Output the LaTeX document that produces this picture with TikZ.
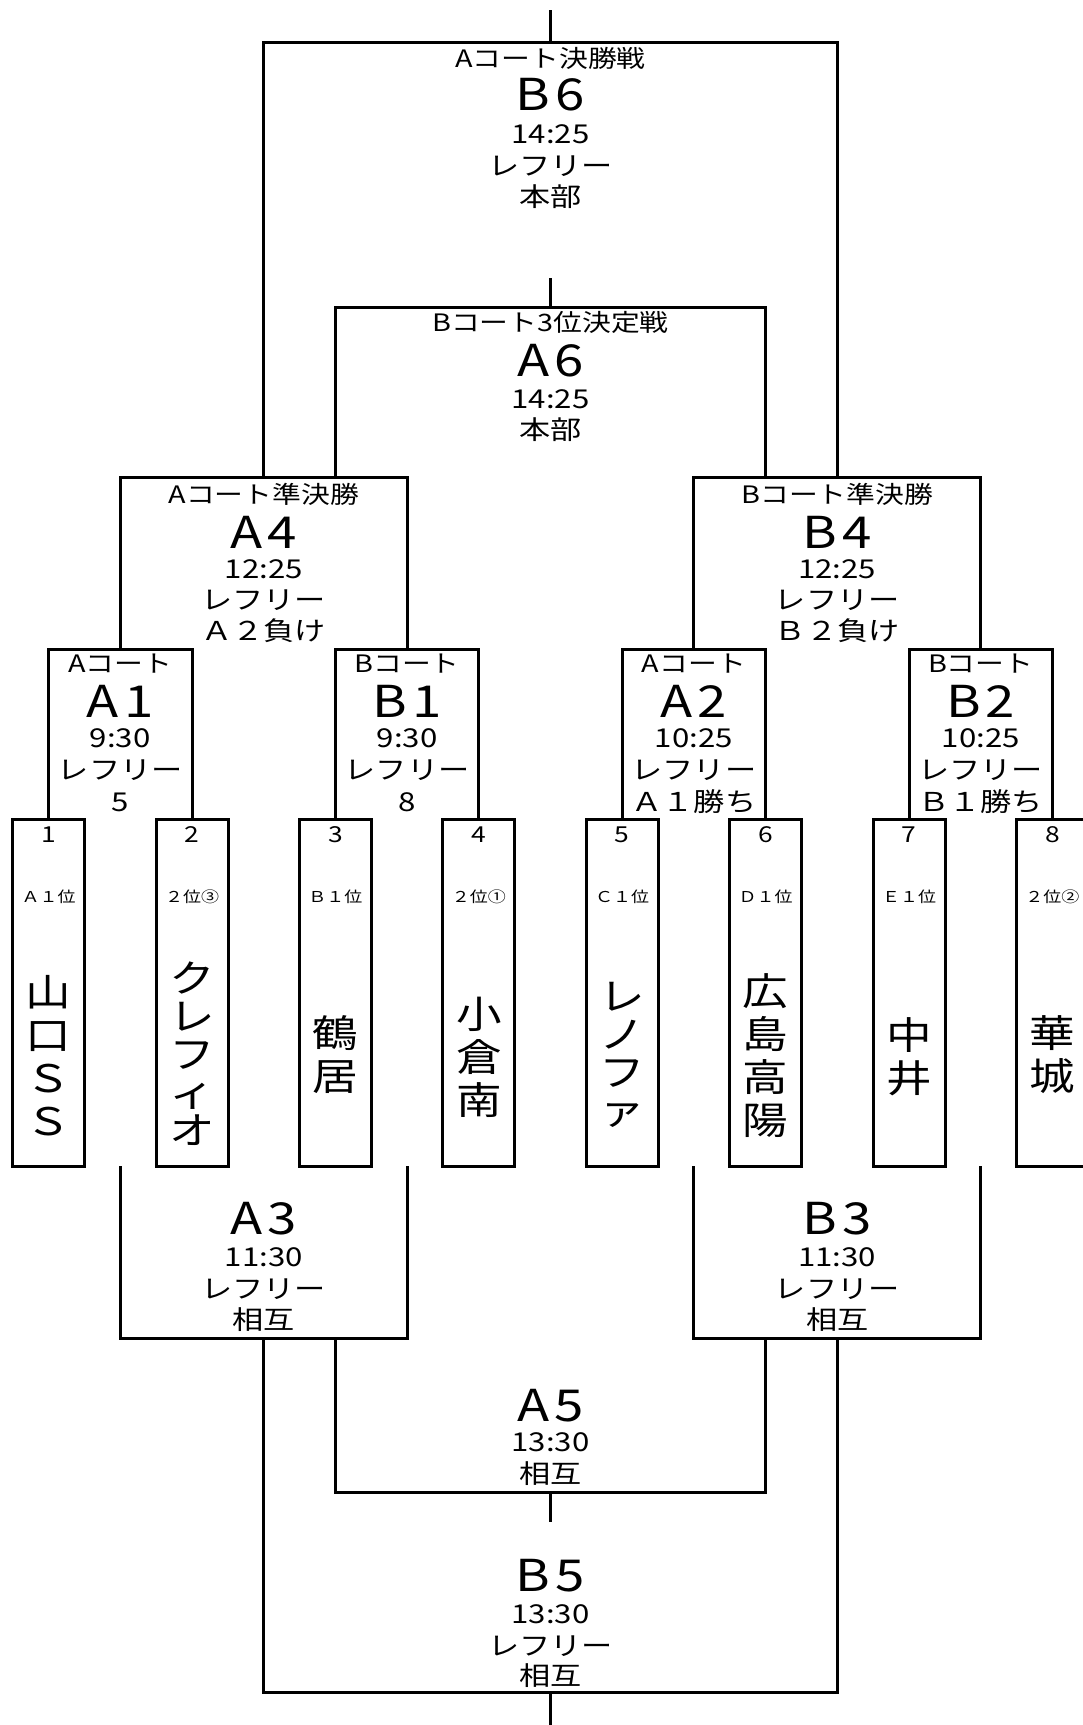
\documentclass[tikz,border=0pt]{standalone}
\usepackage{fontspec}
\setmainfont{Noto Sans CJK JP}[FakeStretch=1.2]
\newcommand{\cd}[2]{#1\kern0.12em #2}
\begin{document}
\begin{tikzpicture}[x=1pt,y=-1pt,
  line width=3pt, line join=miter,
  team/.style={draw, line width=3pt, minimum width=72pt, minimum height=347pt, inner sep=0pt},
  ttl/.style={font=\fontsize{24}{28}\selectfont, inner sep=0pt},
  code/.style={font=\fontsize{44}{48}\selectfont, inner sep=0pt},
  sm/.style={font=\fontsize{26}{30}\selectfont, inner sep=0pt},
  num/.style={font=\fontsize{22}{24}\selectfont, inner sep=0pt},
  lab/.style={font=\fontsize{15}{18}\selectfont, inner sep=0pt},
  nm/.style={font=\fontsize{38}{43}\selectfont, inner sep=0pt, align=center},
  nmk/.style={font=\fontsize{38}{38}\selectfont, inner sep=0pt, align=center}]
\useasboundingbox (0,0) rectangle (1083,1725);
\clip (0,0) rectangle (1083,1725);
\fill[white] (0,0) rectangle (1083,1725);

% team boxes
\foreach \i/\x in {1/48.6,2/192.0,3/335.4,4/478.8,5/622.2,6/765.6,7/909.0,8/1052.4}
  \node[team] (t\i) at (\x,992.5) {};

% match coordinates
\coordinate (A1) at (120.3,649);
\coordinate (B1) at (407.1,649);
\coordinate (A2) at (693.9,649);
\coordinate (B2) at (980.7,649);
\coordinate (A4) at (263.7,477);
\coordinate (B4) at (837.3,477);
\coordinate (A4r) at (335.4,477);
\coordinate (B4l) at (765.6,477);
\coordinate (B6) at (550.5,42);
\coordinate (B6o) at (550.5,10);
\coordinate (A6) at (550.5,307);
\coordinate (A6o) at (550.5,278);
\coordinate (A1L) at (120.3,1166);
\coordinate (B1L) at (407.1,1166);
\coordinate (A2L) at (693.9,1166);
\coordinate (B2L) at (980.7,1166);
\coordinate (A3) at (263.7,1338);
\coordinate (B3) at (837.3,1338);
\coordinate (A3r) at (335.4,1338);
\coordinate (B3l) at (765.6,1338);
\coordinate (A5) at (550.5,1492);
\coordinate (A5o) at (550.5,1522);
\coordinate (B5) at (550.5,1692);
\coordinate (B5o) at (550.5,1730);

% brackets (upper)
\draw (t1.north) |- (A1) -| (t2.north);
\draw (t3.north) |- (B1) -| (t4.north);
\draw (t5.north) |- (A2) -| (t6.north);
\draw (t7.north) |- (B2) -| (t8.north);
\draw (A1) |- (A4) -| (B1);
\draw (A2) |- (B4) -| (B2);
\draw (A4) |- (B6) -| (B4);
\draw (B6) -- (B6o);
\draw (A4r) |- (A6) -| (B4l);
\draw (A6) -- (A6o);

% brackets (lower)
\draw (A1L) |- (A3) -| (B1L);
\draw (A2L) |- (B3) -| (B2L);
\draw (A3r) |- (A5) -| (B3l);
\draw (A5) -- (A5o);
\draw (A3) |- (B5) -| (B3);
\draw (B5) -- (B5o);

% B6
\node[ttl]  (B6a) at (550.5,58) {Aコート決勝戦};
\node[code] (B6b) at (550.5,95) {\cd{B}{6}};
\node[sm]   (B6c) at (550.5,134) {14:25};
\node[sm]   (B6d) at (550.5,166) {レフリー};
\node[sm]   (B6e) at (550.5,197) {本部};
% A6
\node[ttl]  (A6a) at (550.5,322) {Bコート3位決定戦};
\node[code] (A6b) at (550.5,361) {\cd{A}{6}};
\node[sm]   (A6c) at (550.5,399) {14:25};
\node[sm]   (A6e) at (550.5,430) {本部};
% A4
\node[ttl]  (A4a) at (263.7,494) {Aコート準決勝};
\node[code] (A4b) at (263.7,532) {\cd{A}{4}};
\node[sm]   (A4c) at (263.7,569) {12:25};
\node[sm]   (A4d) at (263.7,600) {レフリー};
\node[sm]   (A4e) at (263.7,631) {Ａ２負け};
% B4
\node[ttl]  (B4a) at (837.3,494) {Bコート準決勝};
\node[code] (B4b) at (837.3,532) {\cd{B}{4}};
\node[sm]   (B4c) at (837.3,569) {12:25};
\node[sm]   (B4d) at (837.3,600) {レフリー};
\node[sm]   (B4e) at (837.3,631) {Ｂ２負け};
% A1
\node[ttl]  (A1a) at (120.3,664) {Aコート};
\node[code] (A1b) at (120.3,701) {\cd{A}{1}};
\node[sm]   (A1c) at (120.3,738) {9:30};
\node[sm]   (A1d) at (120.3,770) {レフリー};
\node[sm]   (A1e) at (120.3,802) {5};
% B1
\node[ttl]  (B1a) at (407.1,664) {Bコート};
\node[code] (B1b) at (407.1,701) {\cd{B}{1}};
\node[sm]   (B1c) at (407.1,738) {9:30};
\node[sm]   (B1d) at (407.1,770) {レフリー};
\node[sm]   (B1e) at (407.1,802) {8};
% A2
\node[ttl]  (A2a) at (693.9,664) {Aコート};
\node[code] (A2b) at (693.9,701) {\cd{A}{2}};
\node[sm]   (A2c) at (693.9,738) {10:25};
\node[sm]   (A2d) at (693.9,770) {レフリー};
\node[sm]   (A2e) at (693.9,802) {Ａ１勝ち};
% B2
\node[ttl]  (B2a) at (980.7,664) {Bコート};
\node[code] (B2b) at (980.7,701) {\cd{B}{2}};
\node[sm]   (B2c) at (980.7,738) {10:25};
\node[sm]   (B2d) at (980.7,770) {レフリー};
\node[sm]   (B2e) at (980.7,802) {Ｂ１勝ち};
% A3
\node[code] (A3b) at (263.7,1219) {\cd{A}{3}};
\node[sm]   (A3c) at (263.7,1257) {11:30};
\node[sm]   (A3d) at (263.7,1289) {レフリー};
\node[sm]   (A3e) at (263.7,1320) {相互};
% B3
\node[code] (B3b) at (837.3,1219) {\cd{B}{3}};
\node[sm]   (B3c) at (837.3,1257) {11:30};
\node[sm]   (B3d) at (837.3,1289) {レフリー};
\node[sm]   (B3e) at (837.3,1320) {相互};
% A5
\node[code] (A5b) at (550.5,1406) {\cd{A}{5}};
\node[sm]   (A5c) at (550.5,1442) {13:30};
\node[sm]   (A5e) at (550.5,1474) {相互};
% B5
\node[code] (B5b) at (550.5,1576) {\cd{B}{5}};
\node[sm]   (B5c) at (550.5,1614) {13:30};
\node[sm]   (B5d) at (550.5,1646) {レフリー};
\node[sm]   (B5e) at (550.5,1676) {相互};

% team texts
\foreach \i/\x in {1/48.6,2/192.0,3/335.4,4/478.8,5/622.2,6/765.6,7/909.0,8/1052.4}
  \node[num] (n\i) at (\x,835) {\i};
\node[lab] (l1) at (48.6,897) {Ａ１位};
\node[lab] (l2) at (192.0,897) {２位③};
\node[lab] (l3) at (335.4,897) {Ｂ１位};
\node[lab] (l4) at (478.8,897) {２位①};
\node[lab] (l5) at (622.2,897) {Ｃ１位};
\node[lab] (l6) at (765.6,897) {Ｄ１位};
\node[lab] (l7) at (909.0,897) {Ｅ１位};
\node[lab] (l8) at (1052.4,897) {２位②};
\node[nm]  (m1) at (48.6,1056) {山\\口\\Ｓ\\Ｓ};
\node[nmk] (m2) at (192.0,1054) {ク\\レ\\フ\\ィ\\オ};
\node[nm]  (m3) at (335.4,1055) {鶴\\居};
\node[nm]  (m4) at (478.8,1057) {小\\倉\\南};
\node[nmk] (m5) at (622.2,1055) {レ\\ノ\\フ\\ァ};
\node[nm]  (m6) at (765.6,1056) {広\\島\\高\\陽};
\node[nm]  (m7) at (909.0,1057) {中\\井};
\node[nm]  (m8) at (1052.4,1055) {華\\城};
\end{tikzpicture}
\end{document}
